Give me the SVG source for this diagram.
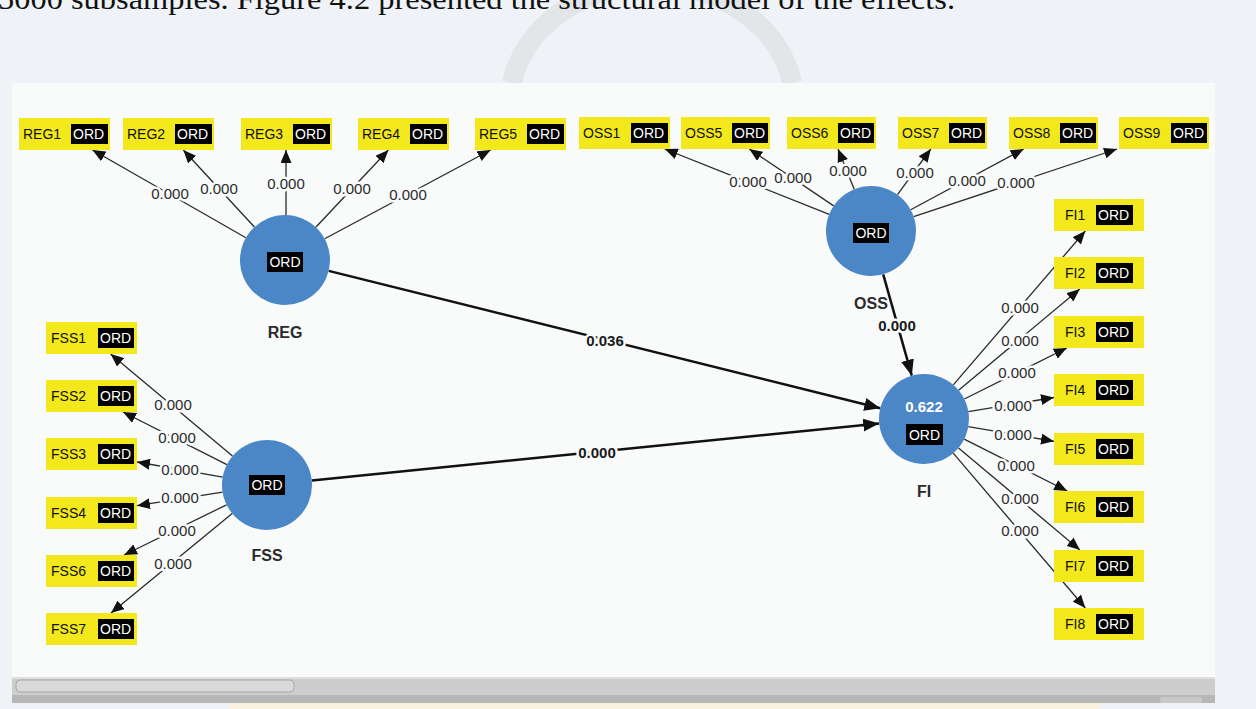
<svg xmlns="http://www.w3.org/2000/svg" width="1256" height="709" viewBox="0 0 1256 709">
<defs>
<style>
.ind{fill:#f2e81c}
.ordb{fill:#000}
.ordt{font-family:"Liberation Sans",Arial,sans-serif;font-size:14px;fill:#fff}
.lbl{font-family:"Liberation Sans",Arial,sans-serif;font-size:14px;fill:#111}
.lv{fill:#4b87c6}
.lvn{font-family:"Liberation Sans",Arial,sans-serif;font-size:16px;font-weight:bold;fill:#2a2a2a;text-anchor:middle}
.ol{stroke:#2a2a2a;stroke-width:1.3;fill:none;marker-end:url(#ah)}
.sl{stroke:#111;stroke-width:2.5;fill:none;marker-end:url(#ahb)}
.w{font-family:"Liberation Sans",Arial,sans-serif;font-size:15px;fill:#2a2a2a;text-anchor:middle;paint-order:stroke;stroke:#f9fafa;stroke-width:5;stroke-linejoin:round}
.wb{font-family:"Liberation Sans",Arial,sans-serif;font-size:15px;font-weight:bold;fill:#1a1a1a;text-anchor:middle;paint-order:stroke;stroke:#f9fafa;stroke-width:5;stroke-linejoin:round}
</style>
<marker id="ah" markerUnits="userSpaceOnUse" markerWidth="13" markerHeight="11" refX="13" refY="5.5" orient="auto"><path d="M0,0 L13,5.5 L0,11 z" fill="#111"/></marker>
<marker id="ahb" markerUnits="userSpaceOnUse" markerWidth="16" markerHeight="13" refX="16" refY="6.5" orient="auto"><path d="M0,0 L16,6.5 L0,13 z" fill="#111"/></marker>
</defs>

<!-- page background -->
<rect x="0" y="0" width="1256" height="709" fill="#eff3f7"/>
<path d="M512,83 A142,118 0 0 1 792,83" fill="none" stroke="#e3e6e9" stroke-width="20"/>
<text x="-2" y="9" font-family="Liberation Serif,Times New Roman,serif" font-size="30" fill="#111" textLength="957" lengthAdjust="spacingAndGlyphs">5000 subsamples. Figure 4.2 presented the structural model of the effects.</text>

<!-- panel -->
<rect x="12" y="83" width="1203" height="594" fill="#f9fafa"/>
<!-- scrollbar -->
<rect x="12" y="677" width="1203" height="18" fill="#cdcdcd"/>
<rect x="12" y="677" width="1203" height="2" fill="#dedede"/>
<rect x="16" y="680" width="278" height="12" rx="4" fill="#d9d9d9" stroke="#a6a6a6" stroke-width="1"/>
<rect x="12" y="695" width="1203" height="8" fill="#b7b7b7"/>
<rect x="1160" y="697" width="42" height="6" rx="2" fill="#c8c8c8"/>
<rect x="230" y="703" width="870" height="6" fill="#fbf1df"/>

<!-- connectors -->
<g id="connectors">
<line class="ol" x1="245.9" y1="237.7" x2="92.5" y2="150"/>
<line class="ol" x1="254.4" y1="227" x2="183.3" y2="150"/>
<line class="ol" x1="286" y1="215" x2="286" y2="150"/>
<line class="ol" x1="315.8" y1="227.2" x2="388.4" y2="150"/>
<line class="ol" x1="324.7" y1="238.8" x2="490.6" y2="150"/>

<line class="ol" x1="829.2" y1="214.4" x2="664.8" y2="149"/>
<line class="ol" x1="833.7" y1="205.9" x2="749.3" y2="149"/>
<line class="ol" x1="854.2" y1="189.3" x2="838" y2="149"/>
<line class="ol" x1="897.5" y1="194.6" x2="930.8" y2="149"/>
<line class="ol" x1="910.7" y1="209.7" x2="1023.7" y2="149"/>
<line class="ol" x1="913.7" y1="216.7" x2="1117" y2="149"/>

<line class="ol" x1="953.3" y1="384.8" x2="1085.3" y2="231"/>
<line class="ol" x1="958.6" y1="390.2" x2="1079.8" y2="289"/>
<line class="ol" x1="964.3" y1="399" x2="1066.8" y2="348"/>
<line class="ol" x1="968.4" y1="411.6" x2="1054" y2="397.5"/>
<line class="ol" x1="968.3" y1="426.6" x2="1054" y2="441.3"/>
<line class="ol" x1="964.2" y1="439.2" x2="1067.2" y2="491"/>
<line class="ol" x1="958.5" y1="447.9" x2="1079.9" y2="550"/>
<line class="ol" x1="953.2" y1="453.2" x2="1085.3" y2="608"/>

<line class="ol" x1="232.5" y1="456.1" x2="110.6" y2="354"/>
<line class="ol" x1="226.9" y1="464.7" x2="123" y2="412"/>
<line class="ol" x1="222.7" y1="477.2" x2="137" y2="462"/>
<line class="ol" x1="222.6" y1="492.1" x2="137" y2="505.7"/>
<line class="ol" x1="226.6" y1="504.8" x2="124.1" y2="555"/>
<line class="ol" x1="232.2" y1="513.5" x2="111" y2="613"/>

<line class="sl" x1="328.7" y1="270.9" x2="880.3" y2="408.2"/>
<line class="sl" x1="311.8" y1="480.5" x2="879.2" y2="423.5"/>
<line class="sl" x1="883.2" y1="274.3" x2="911.8" y2="375.7"/>

<text class="w" x="170" y="199">0.000</text>
<text class="w" x="219" y="194">0.000</text>
<text class="w" x="286" y="189">0.000</text>
<text class="w" x="352" y="194">0.000</text>
<text class="w" x="408" y="200">0.000</text>

<text class="w" x="748" y="187">0.000</text>
<text class="w" x="793" y="183">0.000</text>
<text class="w" x="848" y="176">0.000</text>
<text class="w" x="915" y="178">0.000</text>
<text class="w" x="967" y="186">0.000</text>
<text class="w" x="1016" y="188">0.000</text>

<text class="w" x="1020" y="313">0.000</text>
<text class="w" x="1020" y="346">0.000</text>
<text class="w" x="1017" y="378">0.000</text>
<text class="w" x="1013" y="411">0.000</text>
<text class="w" x="1013" y="440">0.000</text>
<text class="w" x="1016" y="471">0.000</text>
<text class="w" x="1020" y="504">0.000</text>
<text class="w" x="1020" y="536">0.000</text>

<text class="w" x="173" y="410">0.000</text>
<text class="w" x="177" y="443">0.000</text>
<text class="w" x="180" y="475">0.000</text>
<text class="w" x="180" y="503">0.000</text>
<text class="w" x="177" y="536">0.000</text>
<text class="w" x="173" y="569">0.000</text>

<text class="wb" x="605" y="346">0.036</text>
<text class="wb" x="597" y="458">0.000</text>
<text class="wb" x="897" y="331">0.000</text>
</g>

<!-- latent variables -->
<g id="REG">
<circle class="lv" cx="285" cy="260" r="45"/>
<rect class="ordb" x="267" y="252" width="36" height="20"/>
<text class="ordt" x="285" y="267" text-anchor="middle">ORD</text>
<text class="lvn" x="285" y="338">REG</text>
</g>
<g id="OSS">
<circle class="lv" cx="871" cy="231" r="45"/>
<rect class="ordb" x="853" y="223" width="36" height="20"/>
<text class="ordt" x="871" y="238" text-anchor="middle">ORD</text>
<text class="lvn" x="871" y="309">OSS</text>
</g>
<g id="FSS">
<circle class="lv" cx="267" cy="485" r="45"/>
<rect class="ordb" x="249" y="475" width="36" height="20"/>
<text class="ordt" x="267" y="490" text-anchor="middle">ORD</text>
<text class="lvn" x="267" y="561">FSS</text>
</g>
<g id="FI">
<circle class="lv" cx="924" cy="419" r="45"/>
<text x="924" y="412" font-family="Liberation Sans,Arial,sans-serif" font-size="15" font-weight="bold" fill="#fff" text-anchor="middle">0.622</text>
<rect class="ordb" x="906" y="424" width="37" height="21"/>
<text class="ordt" x="924.5" y="440" text-anchor="middle">ORD</text>
<text class="lvn" x="924" y="497">FI</text>
</g>

<!-- indicators -->
<g id="REG1"><rect class="ind" x="19" y="118" width="91" height="32"/><text class="lbl" x="23" y="139">REG1</text><rect class="ordb" x="71" y="124" width="37" height="20"/><text class="ordt" x="73" y="139">ORD</text></g>
<g id="REG2"><rect class="ind" x="123" y="118" width="91" height="32"/><text class="lbl" x="127" y="139">REG2</text><rect class="ordb" x="175" y="124" width="37" height="20"/><text class="ordt" x="177" y="139">ORD</text></g>
<g id="REG3"><rect class="ind" x="241" y="118" width="91" height="32"/><text class="lbl" x="245" y="139">REG3</text><rect class="ordb" x="293" y="124" width="37" height="20"/><text class="ordt" x="295" y="139">ORD</text></g>
<g id="REG4"><rect class="ind" x="358" y="118" width="91" height="32"/><text class="lbl" x="362" y="139">REG4</text><rect class="ordb" x="410" y="124" width="37" height="20"/><text class="ordt" x="412" y="139">ORD</text></g>
<g id="REG5"><rect class="ind" x="475" y="118" width="91" height="32"/><text class="lbl" x="479" y="139">REG5</text><rect class="ordb" x="527" y="124" width="37" height="20"/><text class="ordt" x="529" y="139">ORD</text></g>

<g id="OSS1"><rect class="ind" x="579" y="117" width="91" height="32"/><text class="lbl" x="583" y="138">OSS1</text><rect class="ordb" x="631" y="123" width="37" height="20"/><text class="ordt" x="633" y="138">ORD</text></g>
<g id="OSS5"><rect class="ind" x="681" y="117" width="89" height="32"/><text class="lbl" x="685" y="138">OSS5</text><rect class="ordb" x="732" y="123" width="36" height="20"/><text class="ordt" x="734" y="138">ORD</text></g>
<g id="OSS6"><rect class="ind" x="787" y="117" width="89" height="32"/><text class="lbl" x="791" y="138">OSS6</text><rect class="ordb" x="838" y="123" width="36" height="20"/><text class="ordt" x="840" y="138">ORD</text></g>
<g id="OSS7"><rect class="ind" x="898" y="117" width="89" height="32"/><text class="lbl" x="902" y="138">OSS7</text><rect class="ordb" x="949" y="123" width="36" height="20"/><text class="ordt" x="951" y="138">ORD</text></g>
<g id="OSS8"><rect class="ind" x="1009" y="117" width="89" height="32"/><text class="lbl" x="1013" y="138">OSS8</text><rect class="ordb" x="1060" y="123" width="36" height="20"/><text class="ordt" x="1062" y="138">ORD</text></g>
<g id="OSS9"><rect class="ind" x="1119" y="117" width="90" height="32"/><text class="lbl" x="1123" y="138">OSS9</text><rect class="ordb" x="1171" y="123" width="36" height="20"/><text class="ordt" x="1173" y="138">ORD</text></g>

<g id="FI1"><rect class="ind" x="1054" y="199" width="90" height="32"/><text class="lbl" x="1065" y="220">FI1</text><rect class="ordb" x="1096" y="205" width="37" height="20"/><text class="ordt" x="1098" y="220">ORD</text></g>
<g id="FI2"><rect class="ind" x="1054" y="257" width="90" height="32"/><text class="lbl" x="1065" y="278">FI2</text><rect class="ordb" x="1096" y="263" width="37" height="20"/><text class="ordt" x="1098" y="278">ORD</text></g>
<g id="FI3"><rect class="ind" x="1054" y="316" width="90" height="32"/><text class="lbl" x="1065" y="337">FI3</text><rect class="ordb" x="1096" y="322" width="37" height="20"/><text class="ordt" x="1098" y="337">ORD</text></g>
<g id="FI4"><rect class="ind" x="1054" y="374" width="90" height="32"/><text class="lbl" x="1065" y="395">FI4</text><rect class="ordb" x="1096" y="380" width="37" height="20"/><text class="ordt" x="1098" y="395">ORD</text></g>
<g id="FI5"><rect class="ind" x="1054" y="433" width="90" height="32"/><text class="lbl" x="1065" y="454">FI5</text><rect class="ordb" x="1096" y="439" width="37" height="20"/><text class="ordt" x="1098" y="454">ORD</text></g>
<g id="FI6"><rect class="ind" x="1054" y="491" width="90" height="32"/><text class="lbl" x="1065" y="512">FI6</text><rect class="ordb" x="1096" y="497" width="37" height="20"/><text class="ordt" x="1098" y="512">ORD</text></g>
<g id="FI7"><rect class="ind" x="1054" y="550" width="90" height="32"/><text class="lbl" x="1065" y="571">FI7</text><rect class="ordb" x="1096" y="556" width="37" height="20"/><text class="ordt" x="1098" y="571">ORD</text></g>
<g id="FI8"><rect class="ind" x="1054" y="608" width="90" height="32"/><text class="lbl" x="1065" y="629">FI8</text><rect class="ordb" x="1096" y="614" width="37" height="20"/><text class="ordt" x="1098" y="629">ORD</text></g>

<g id="FSS1"><rect class="ind" x="46" y="322" width="91" height="32"/><text class="lbl" x="51" y="343">FSS1</text><rect class="ordb" x="98" y="328" width="36" height="20"/><text class="ordt" x="100" y="343">ORD</text></g>
<g id="FSS2"><rect class="ind" x="46" y="380" width="91" height="32"/><text class="lbl" x="51" y="401">FSS2</text><rect class="ordb" x="98" y="386" width="36" height="20"/><text class="ordt" x="100" y="401">ORD</text></g>
<g id="FSS3"><rect class="ind" x="46" y="438" width="91" height="32"/><text class="lbl" x="51" y="459">FSS3</text><rect class="ordb" x="98" y="444" width="36" height="20"/><text class="ordt" x="100" y="459">ORD</text></g>
<g id="FSS4"><rect class="ind" x="46" y="497" width="91" height="32"/><text class="lbl" x="51" y="518">FSS4</text><rect class="ordb" x="98" y="503" width="36" height="20"/><text class="ordt" x="100" y="518">ORD</text></g>
<g id="FSS6"><rect class="ind" x="46" y="555" width="91" height="32"/><text class="lbl" x="51" y="576">FSS6</text><rect class="ordb" x="98" y="561" width="36" height="20"/><text class="ordt" x="100" y="576">ORD</text></g>
<g id="FSS7"><rect class="ind" x="46" y="613" width="91" height="32"/><text class="lbl" x="51" y="634">FSS7</text><rect class="ordb" x="98" y="619" width="36" height="20"/><text class="ordt" x="100" y="634">ORD</text></g>
</svg>
